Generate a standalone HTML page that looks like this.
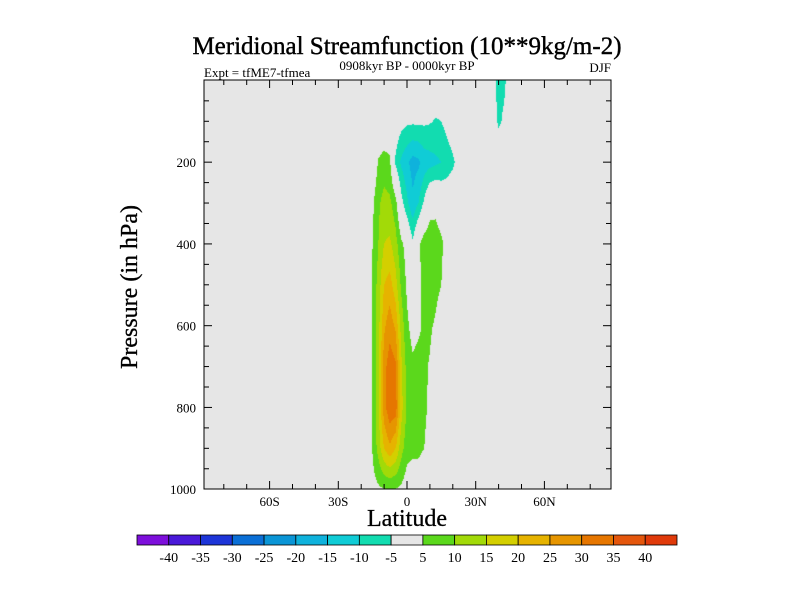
<!DOCTYPE html>
<html><head><meta charset="utf-8"><style>
body{margin:0;background:#fff;width:800px;height:600px;overflow:hidden;font-family:"Liberation Serif",serif;}
</style></head><body>
<svg id="chart" width="800" height="600" xmlns="http://www.w3.org/2000/svg" style="position:absolute;left:0;top:0">
<text x="407" y="54" text-anchor="middle" font-size="25" fill="#000" stroke="#000" stroke-width="0.4">Meridional Streamfunction (10**9kg/m-2)</text>
<text x="204" y="77" font-size="13" fill="#000">Expt = tfME7-tfmea</text>
<text x="407" y="70" text-anchor="middle" font-size="13" fill="#000">0908kyr BP - 0000kyr BP</text>
<text x="611" y="72" text-anchor="end" font-size="13" fill="#000">DJF</text>
<foreignObject x="204" y="80" width="407" height="409"><canvas xmlns="http://www.w3.org/1999/xhtml" id="cv" width="407" height="409"></canvas></foreignObject>
<g id="axes"></g>
<text transform="translate(137,287) rotate(-90)" text-anchor="middle" font-size="24" fill="#000" stroke="#000" stroke-width="0.3">Pressure (in hPa)</text>
<text x="407" y="526" text-anchor="middle" font-size="24" fill="#000" stroke="#000" stroke-width="0.3">Latitude</text>
<g id="cbar"></g>
</svg>
<script>
const lats=[-20,-17.5,-15,-12.5,-10,-7.5,-5,-2.5,0,2.5,5,7.5,10,12.5,15,17.5,20,22.5,25,27.5,30,32.5,35,37.5,40,42.5,45,47.5,50];
const pres=[0,100,200,300,400,500,600,700,800,900,1000];
const field=[
[0,0,0,0,0,0,0,0,0,0,0,0,0,0,0,0,0,0,0,0,0,0,0,-3,-7,-6,-2,0,0],
[0,0,0,0,0,0,-1,-3,-4,-4,-4,-4,-4.5,-5.5,-5,-3,-1,0,0,0,0,0,0,-2,-6,-4,0,0,0],
[0,0,0,5.5,7,6,-6,-11,-14,-17,-16,-13,-12,-11,-10,-8,-6,-3,0,0,0,0,0,0,0,0,0,0,0],
[0,0,4,9,12,11,7,-3,-9,-14,-10,-4,2,3,1,0,0,0,0,0,0,0,0,0,0,0,0,0,0],
[0,0,5,10,15,16,12,6,3,-4,4,8,9,8,6,3,0,0,0,0,0,0,0,0,0,0,0,0,0],
[0,0,6,12,20,22,17,9,4,2,3,7,10,7,5,0,0,0,0,0,0,0,0,0,0,0,0,0,0],
[0,0,6,13,24,28,24,13,6,3,4,6,6,4,1,0,0,0,0,0,0,0,0,0,0,0,0,0,0],
[0,0,6,14,28,33,31,16,8,6,7,6,4.5,1,0,0,0,0,0,0,0,0,0,0,0,0,0,0,0],
[0,0,6,14,28,34,33,17,9,10,8,6,4,0,0,0,0,0,0,0,0,0,0,0,0,0,0,0,0],
[0,0,5.5,12,20,24,20,12,7,6,6,5,3,0,0,0,0,0,0,0,0,0,0,0,0,0,0,0,0],
[0,0,3,4,4.8,4.9,4.8,4,2,2,2,1,0,0,0,0,0,0,0,0,0,0,0,0,0,0,0,0,0]];
const levels=[-40,-35,-30,-25,-20,-15,-10,-5,5,10,15,20,25,30,35,40];
const colors=["#7d0fdb","#4a19d9","#1d35d8","#0a6fd6","#0a95d6","#0fb2dc","#10ccd6","#12dcb0","#e6e6e6","#5bd81c","#a2da08","#d4cf00","#e6b300","#e69500","#e67600","#e4560c","#e03a0a"];
const latTicks=[-60,-30,0,30,60];
const latLabels=["60S","30S","0","30N","60N"];
const pTicks=[200,400,600,800,1000];
const X0=204,Y0=80,W=407,H=409;
function xOf(lat){return 407+lat*2.29;}
function yOf(p){return 80.4+p*0.4088;}
function latOf(x){return (x-407)/2.29;}
function pOf(y){return (y-80.4)/0.4088;}
function binColor(v){let i=0;while(i<levels.length&&v>=levels[i])i++;return colors[i];}
function sample(lat,p){
  if(lat<lats[0]||lat>lats[lats.length-1])return 0;
  let i=Math.min(lats.length-2,Math.floor((lat-lats[0])/2.5));
  let j=Math.min(pres.length-2,Math.max(0,Math.floor(p/100)));
  let fx=(lat-lats[i])/(lats[i+1]-lats[i]),fy=Math.max(0,Math.min(1,(p-pres[j])/(pres[j+1]-pres[j])));
  const a=field[j][i],b=field[j][i+1],c=field[j+1][i],d=field[j+1][i+1];
  return a*(1-fx)*(1-fy)+b*fx*(1-fy)+c*(1-fx)*fy+d*fx*fy;
}
const ctx=document.getElementById('cv').getContext('2d');
ctx.fillStyle="#e6e6e6";ctx.fillRect(0,0,W,H);
for(let y=0;y<H;y++)for(let x=0;x<W;x++){
  const v=sample(latOf(X0+x+0.5),pOf(Y0+y+0.5));
  if(Math.abs(v)>=5){ctx.fillStyle=binColor(v);ctx.fillRect(x,y,1,1);}
}
const NS="http://www.w3.org/2000/svg";
const ax=document.getElementById('axes');
function mk(tag,attrs,parent){const e=document.createElementNS(NS,tag);for(const k in attrs)e.setAttribute(k,attrs[k]);(parent||ax).appendChild(e);return e;}
const fr=mk('rect',{x:X0,y:Y0,width:W,height:H,fill:'none',stroke:'#000','stroke-width':1});


for(let lat=-80;lat<=80;lat+=10){
  const x=xOf(lat),len=(lat%30===0)?8:5;
  const t1=mk('line',{x1:x,x2:x,y1:Y0+H,y2:Y0+H-len,stroke:'#000'});
  
  
  const t2=mk('line',{x1:x,x2:x,y1:Y0,y2:Y0+len,stroke:'#000'});
  
  
}
latTicks.forEach((l,i)=>{
  const t=mk('text',{x:xOf(l),y:506,'text-anchor':'middle','font-size':13});
  t.textContent=latLabels[i];
  
  
});
for(let p=50;p<1000;p+=50){
  const y=yOf(p),len=(p%200===0)?8:5;
  const t1=mk('line',{x1:X0,x2:X0+len,y1:y,y2:y,stroke:'#000'});
  
  
  const t2=mk('line',{x1:X0+W,x2:X0+W-len,y1:y,y2:y,stroke:'#000'});
  
  
}
pTicks.forEach(p=>{
  const t=mk('text',{x:196,y:yOf(p)+5,'text-anchor':'end','font-size':13});
  t.textContent=String(p);
  
  
});
const cb=document.getElementById('cbar');
const cbx=137,cbw=540/colors.length;
colors.forEach((c,i)=>{
  const r=mk('rect',{x:cbx+i*cbw,y:535,width:cbw,height:10,fill:c,stroke:'#000','stroke-width':0.8},cb);
  
  
});
levels.forEach((l,i)=>{
  const t=mk('text',{x:cbx+(i+1)*cbw,y:562,'text-anchor':'middle','font-size':14},cb);
  t.textContent=String(l);
  
  
});
</script>
</body></html>
